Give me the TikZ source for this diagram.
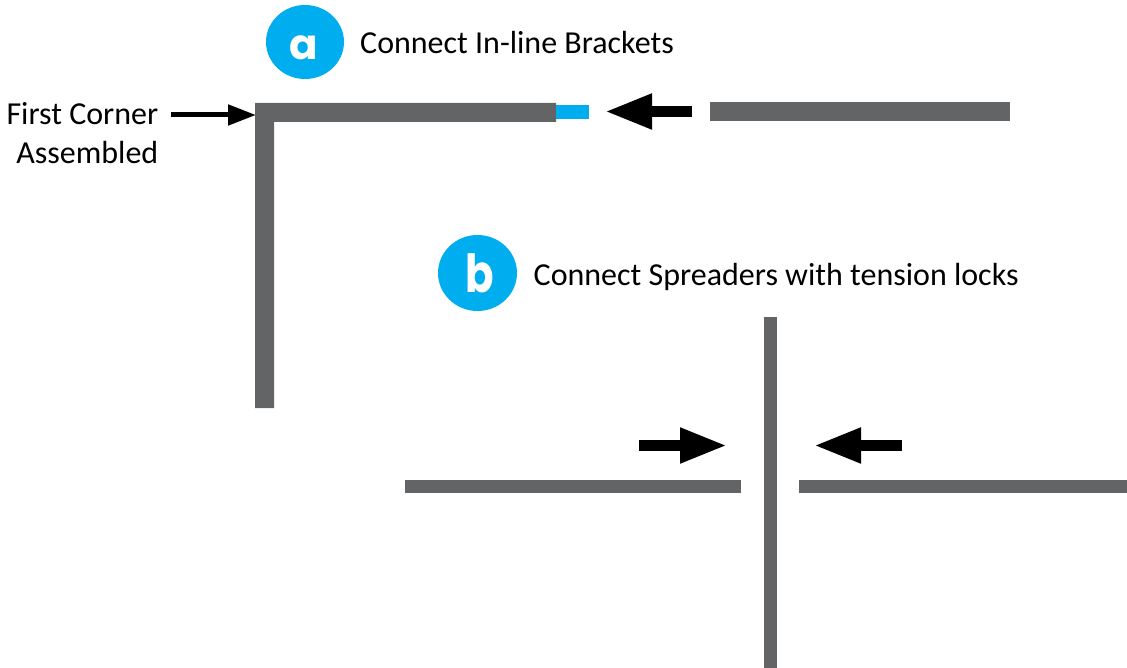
\documentclass[tikz,border=0pt]{standalone}
\usepackage{fontspec}
\setmainfont{Carlito}
\newfontfamily\badgefont[Scale=1]{Poppins}
\usetikzlibrary{arrows.meta}
\definecolor{beamgrey}{HTML}{636466}
\definecolor{badgeblue}{HTML}{00AEEF}
\tikzset{
  x=1pt,y=-1pt,
  beam/.style={fill=beamgrey,draw=none},
  bracket/.style={fill=badgeblue,draw=none},
  badge/.style={fill=badgeblue,draw=none},
  badgeletter/.style={text=white,inner sep=0pt,font=\badgefont\bfseries\fontsize{42}{42}\selectfont},
  label/.style={inner sep=0pt,text=black,font=\fontsize{32}{39}\selectfont},
  thinarrow/.style={line width=5pt,-{Triangle[length=28pt,width=20pt]},black},
  fatarrow/.style={line width=10.7pt,-{Triangle[length=47pt,width=33pt]},black},
}
\begin{document}
\begin{tikzpicture}
\useasboundingbox (0,0) rectangle (1127,668);
% corner
\fill[beam] (255,103) -- (556,103) -- (556,122) -- (274,122) -- (274,408) -- (255,408) -- cycle;
\fill[bracket] (556,105) rectangle (589,119);
\fill[beam] (710,102) rectangle (1010,121);
% cross
\fill[beam] (405,479.5) rectangle (741,492.5);
\fill[beam] (799,479.5) rectangle (1127,492.5);
\fill[beam] (763.5,317) rectangle (776.5,668);
% badges
\fill[badge] (305,42) ellipse [x radius=39,y radius=37];
\node[badgeletter] (la) at (303.5,48) {a};
\fill[badge] (477.5,273) ellipse [x radius=39.5,y radius=38];
\node[badgeletter] (lb) at (480,273.5) {\scalebox{1}[1.25]{b}};
% labels
\node[label,anchor=base west] (ta) at (360,54) {Connect In-line Brackets};
\node[label,anchor=base west] (tb) at (533.5,286) {Connect Spreaders with tension locks};
\node[label,anchor=base east] (t1) at (158.5,125) {First Corner};
\node[label,anchor=base east] (t2) at (158.5,164) {Assembled};
% arrows
\coordinate (a1s) at (171,115); \coordinate (a1e) at (256,115);
\coordinate (a2s) at (692,111.5); \coordinate (a2e) at (605,111.5);
\coordinate (a3s) at (639,445.5); \coordinate (a3e) at (727,445.5);
\coordinate (a4s) at (902,445.5); \coordinate (a4e) at (814,445.5);
\draw[thinarrow] (a1s) -- (a1e);
\draw[fatarrow] (a2s) -- (a2e);
\draw[fatarrow] (a3s) -- (a3e);
\draw[fatarrow] (a4s) -- (a4e);
\end{tikzpicture}
\end{document}
